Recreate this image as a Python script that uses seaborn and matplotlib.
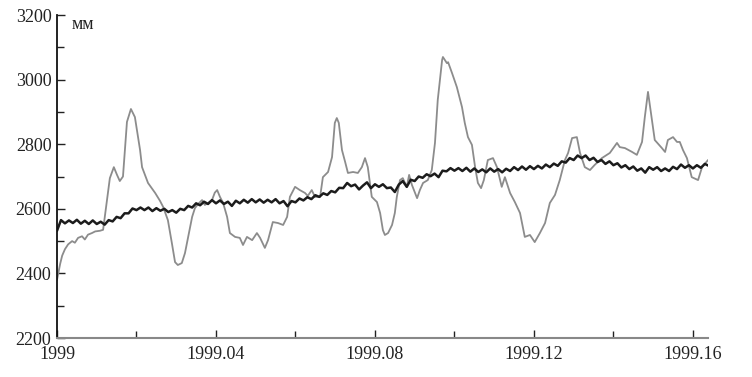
import numpy as np
import pandas as pd
import matplotlib
matplotlib.use("Agg")
import matplotlib.pyplot as plt
import seaborn as sns
from matplotlib.ticker import MultipleLocator, FuncFormatter

# gray series (observed), time in decimal units and level in mm
gray_t = [1999.0000, 1999.0008, 1999.0013, 1999.0020, 1999.0028, 1999.0038, 1999.0045, 1999.0053,
          1999.0063, 1999.0070, 1999.0078, 1999.0088, 1999.0096, 1999.0108, 1999.0116, 1999.0123,
          1999.0133, 1999.0143, 1999.0151, 1999.0158, 1999.0166, 1999.0176, 1999.0186, 1999.0196,
          1999.0209, 1999.0214, 1999.0229, 1999.0247, 1999.0259, 1999.0267, 1999.0279, 1999.0289,
          1999.0297, 1999.0304, 1999.0314, 1999.0322, 1999.0330, 1999.0340, 1999.0347, 1999.0355,
          1999.0365, 1999.0372, 1999.0380, 1999.0390, 1999.0397, 1999.0403, 1999.0410, 1999.0418,
          1999.0428, 1999.0435, 1999.0448, 1999.0460, 1999.0468, 1999.0478, 1999.0491, 1999.0503,
          1999.0511, 1999.0523, 1999.0531, 1999.0543, 1999.0556, 1999.0569, 1999.0579, 1999.0586,
          1999.0599, 1999.0611, 1999.0624, 1999.0631, 1999.0641, 1999.0649, 1999.0662, 1999.0669,
          1999.0682, 1999.0692, 1999.0699, 1999.0704, 1999.0709, 1999.0717, 1999.0725, 1999.0732,
          1999.0745, 1999.0757, 1999.0767, 1999.0775, 1999.0782, 1999.0792, 1999.0805, 1999.0813,
          1999.0820, 1999.0825, 1999.0833, 1999.0843, 1999.0850, 1999.0855, 1999.0863, 1999.0870,
          1999.0880, 1999.0886, 1999.0893, 1999.0906, 1999.0913, 1999.0921, 1999.0933, 1999.0943,
          1999.0951, 1999.0958, 1999.0969, 1999.0971, 1999.0981, 1999.0984, 1999.0994, 1999.1006,
          1999.1019, 1999.1026, 1999.1034, 1999.1044, 1999.1052, 1999.1059, 1999.1067, 1999.1074,
          1999.1084, 1999.1097, 1999.1107, 1999.1119, 1999.1127, 1999.1140, 1999.1152, 1999.1165,
          1999.1177, 1999.1190, 1999.1202, 1999.1215, 1999.1228, 1999.1240, 1999.1253, 1999.1265,
          1999.1278, 1999.1286, 1999.1296, 1999.1308, 1999.1316, 1999.1328, 1999.1341, 1999.1353,
          1999.1371, 1999.1391, 1999.1409, 1999.1416, 1999.1429, 1999.1447, 1999.1459, 1999.1472,
          1999.1479, 1999.1487, 1999.1497, 1999.1504, 1999.1522, 1999.1530, 1999.1537, 1999.1550,
          1999.1560, 1999.1567, 1999.1575, 1999.1585, 1999.1597, 1999.1613, 1999.1623, 1999.1638]
gray_mm = [2380, 2430, 2455, 2475, 2490, 2500, 2495, 2510, 2515, 2505, 2520, 2525, 2530, 2532, 2535, 2600,
           2695, 2729, 2705, 2686, 2700, 2869, 2909, 2884, 2782, 2729, 2680, 2649, 2625, 2606, 2565, 2494,
           2435, 2426, 2432, 2463, 2513, 2575, 2602, 2615, 2627, 2612, 2618, 2627, 2650, 2658, 2637, 2618,
           2575, 2525, 2513, 2510, 2488, 2513, 2503, 2525, 2510, 2479, 2503, 2559, 2556, 2550, 2575, 2637,
           2668, 2658, 2649, 2640, 2658, 2637, 2637, 2698, 2714, 2760, 2866, 2881, 2866, 2782, 2745, 2711,
           2714, 2711, 2729, 2757, 2729, 2637, 2621, 2587, 2534, 2519, 2525, 2550, 2587, 2637, 2689, 2695,
           2668, 2705, 2674, 2633, 2658, 2680, 2689, 2720, 2804, 2937, 3061, 3070, 3051, 3054, 3020, 2977,
           2915, 2866, 2822, 2798, 2729, 2680, 2664, 2689, 2751, 2757, 2729, 2668, 2698, 2649, 2621, 2587,
           2513, 2519, 2497, 2525, 2556, 2618, 2643, 2689, 2751, 2773, 2819, 2822, 2773, 2729, 2720, 2736,
           2757, 2773, 2804, 2791, 2788, 2776, 2767, 2807, 2884, 2962, 2875, 2813, 2788, 2776, 2813, 2822,
           2807, 2807, 2782, 2757, 2698, 2689, 2729, 2751]

# black series (trend), one reading every 0.001
black_t = np.round(np.arange(0, 165) * 0.001 + 1999, 4)
black_mm = [2532, 2565, 2555, 2564, 2556, 2566, 2554, 2563, 2553, 2564, 2553, 2560, 2551, 2565, 2561, 2575,
            2571, 2586, 2586, 2601, 2596, 2604, 2596, 2604, 2593, 2602, 2594, 2600, 2590, 2596, 2588, 2600,
            2596, 2609, 2604, 2617, 2611, 2622, 2615, 2627, 2617, 2626, 2615, 2622, 2609, 2625, 2617, 2628,
            2619, 2630, 2620, 2629, 2619, 2628, 2620, 2630, 2617, 2624, 2608, 2624, 2620, 2632, 2626, 2636,
            2630, 2642, 2637, 2648, 2643, 2655, 2651, 2665, 2664, 2680, 2670, 2675, 2660, 2672, 2682, 2664,
            2676, 2668, 2676, 2664, 2666, 2652, 2675, 2686, 2668, 2690, 2686, 2700, 2696, 2707, 2701, 2709,
            2698, 2718, 2716, 2726, 2718, 2726, 2717, 2727, 2715, 2725, 2714, 2722, 2713, 2725, 2715, 2723,
            2713, 2724, 2717, 2729, 2720, 2731, 2721, 2732, 2723, 2733, 2725, 2737, 2729, 2740, 2733, 2747,
            2743, 2757, 2751, 2765, 2757, 2765, 2751, 2758, 2745, 2751, 2739, 2747, 2735, 2741, 2728, 2735,
            2723, 2731, 2718, 2725, 2712, 2729, 2721, 2729, 2717, 2725, 2717, 2730, 2723, 2737, 2727, 2735,
            2725, 2735, 2727, 2739, 2733]

gray_df = pd.DataFrame({"t": gray_t, "mm": gray_mm})
black_df = pd.DataFrame({"t": black_t, "mm": black_mm})

sns.set_style("ticks")
plt.rcParams["font.family"] = ["Liberation Serif", "DejaVu Serif"]

fig = plt.figure(figsize=(7.52, 3.77), dpi=100)
ax = fig.add_axes([0.0758, 0.1034, 0.8657, 0.8568])

sns.lineplot(x="t", y="mm", data=gray_df, ax=ax, color="#8c8c8c", linewidth=1.3, sort=False)
sns.lineplot(x="t", y="mm", data=black_df, ax=ax, color="#1c1c1c", linewidth=1.8, sort=False)

ax.set_xlim(1999, 1999.1638)
ax.set_ylim(2200, 3200)
ax.xaxis.set_major_locator(MultipleLocator(0.04))
ax.xaxis.set_minor_locator(MultipleLocator(0.02))
ax.yaxis.set_major_locator(MultipleLocator(200))
ax.yaxis.set_minor_locator(MultipleLocator(100))
ax.xaxis.set_major_formatter(FuncFormatter(lambda v, p: "1999" if abs(v - 1999) < 1e-6 else "%.2f" % v))
ax.tick_params(axis="both", which="both", direction="in", labelsize=13, colors="#222222")
ax.tick_params(axis="both", which="major", length=6, width=1)
ax.tick_params(axis="both", which="minor", length=5, width=1)
ax.tick_params(axis="x", pad=6)
ax.tick_params(axis="y", pad=4)

ax.set_xlabel("")
ax.set_ylabel("")
sns.despine(ax=ax)
ax.spines["left"].set_color("#111111")
ax.spines["left"].set_linewidth(1.3)
ax.spines["bottom"].set_color("#888888")
ax.spines["bottom"].set_linewidth(1.5)

ax.text(0.023, 0.972, "мм", transform=ax.transAxes, fontsize=13, va="center", ha="left", color="#222222")

plt.savefig("out.png", dpi=100)
